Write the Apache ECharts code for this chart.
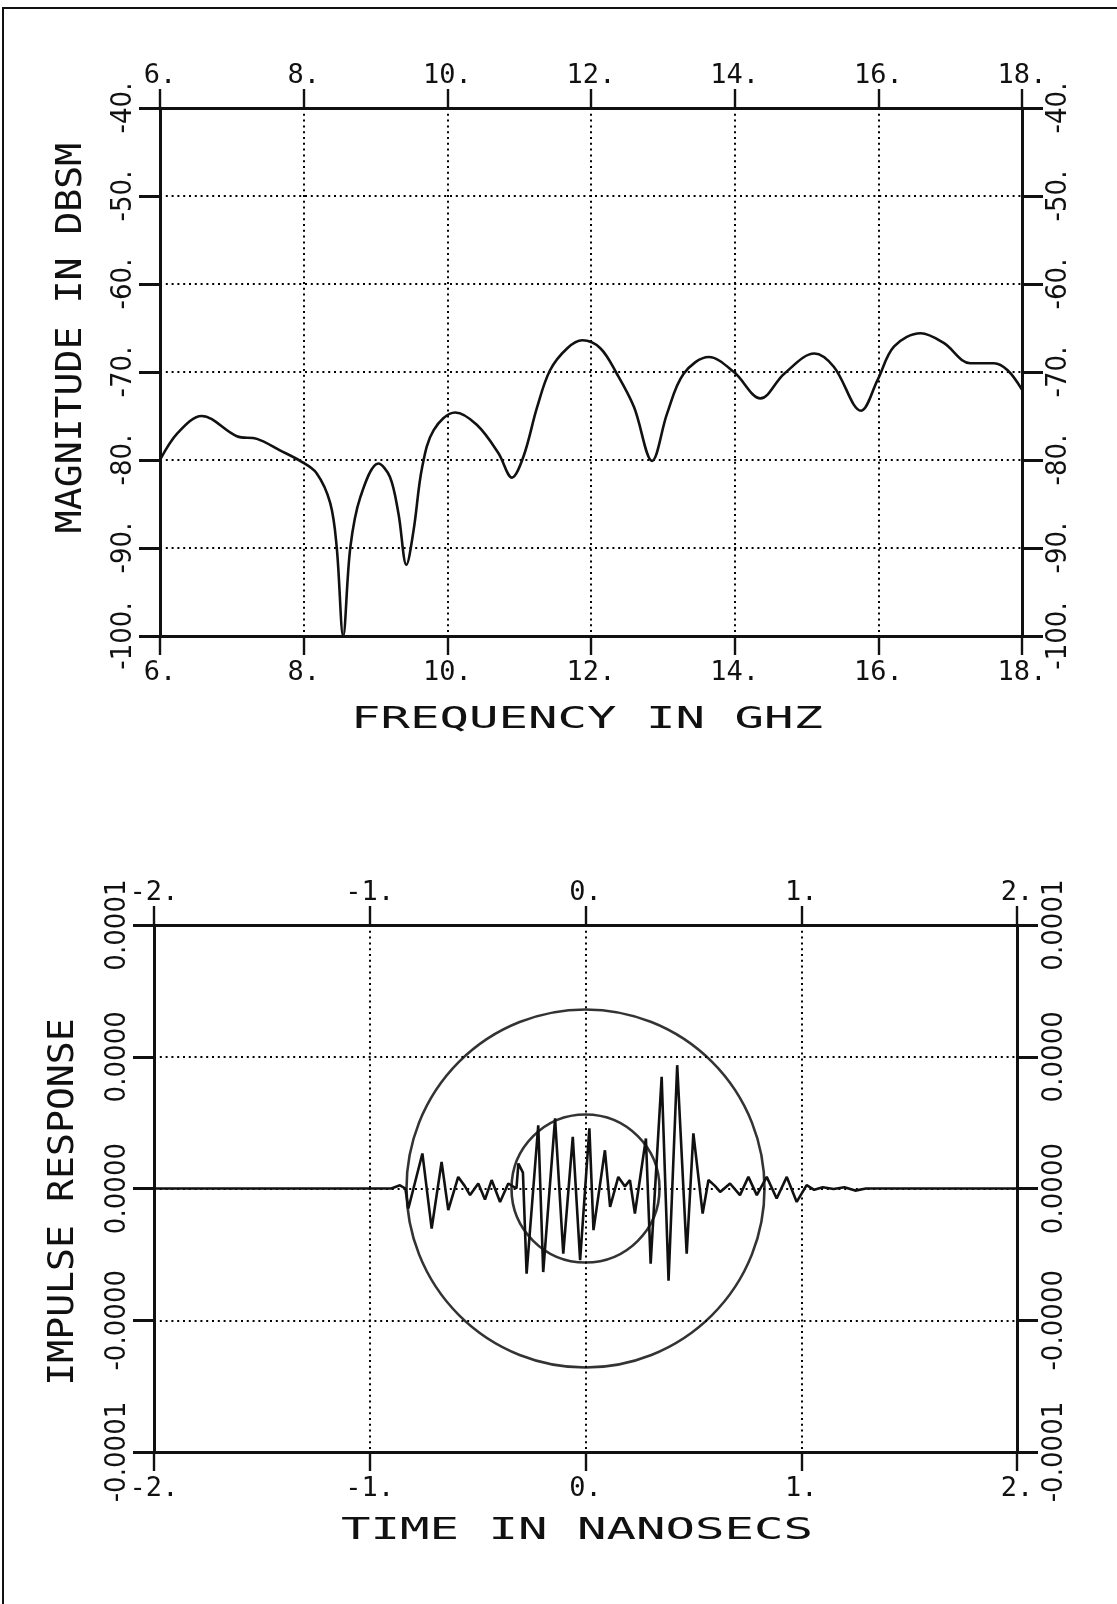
<!DOCTYPE html>
<html>
<head>
<meta charset="utf-8">
<script src="https://cdn.jsdelivr.net/npm/echarts@6/dist/echarts.min.js"></script>
<style>
html,body{margin:0;padding:0;background:#fff;}
#chart{width:1117px;height:1604px;}
</style>
</head>
<body>
<div id="chart"></div>
<script>
// ---------- tick labels ----------
const freqTickLabels = ['6.', '8.', '10.', '12.', '14.', '16.', '18.'];
const dbsmTickLabels = ['-100.', '-90.', '-80.', '-70.', '-60.', '-50.', '-40.'];
const timeTickLabels = ['-2.', '-1.', '0.', '1.', '2.'];
const impulseTickLabels = ['-0.0001', '-0.0000', '0.0000', '0.0000', '0.0001'];

// ---------- axis titles ----------
const magTitle = 'MAGNITUDE IN DBSM';
const freqTitle = 'FREQUENCY IN GHZ';
const impTitle = 'IMPULSE RESPONSE';
const timeTitle = 'TIME IN NANOSECS';

// ---------- top plot: magnitude vs frequency ----------
const freqGHz = [6.0, 6.25, 6.58, 7.07, 7.35, 7.67, 7.95, 8.18, 8.37, 8.46, 8.55, 8.65, 8.79, 9.04, 9.20, 9.32, 9.43, 9.53, 9.65, 9.81,
  10.11, 10.41, 10.71, 10.90, 11.06, 11.25, 11.43, 11.67, 11.88, 12.13, 12.36, 12.60, 12.85, 13.06, 13.29, 13.64, 13.99,
  14.36, 14.69, 15.11, 15.38, 15.76, 15.99, 16.22, 16.59, 16.91, 17.28, 17.61, 17.80, 18.0];
const magnitudeDBSM = [-80.0, -76.9, -75.0, -77.3, -77.6, -78.9, -80.1, -81.5, -84.9, -89.9, -100.0, -89.9, -84.2, -80.4, -81.9, -86.1, -91.9, -88.0, -80.8, -76.6,
  -74.6, -76.0, -79.2, -82.0, -79.6, -74.0, -69.8, -67.3, -66.4, -67.3, -70.2, -74.0, -80.1, -74.7, -70.2, -68.3, -70.0,
  -73.0, -70.2, -67.9, -69.4, -74.4, -70.9, -67.1, -65.6, -66.7, -69.0, -69.0, -69.8, -72.0];

// ---------- bottom plot: impulse response vs time ----------
const timeNs = [-2.0, -0.90, -0.86, -0.835, -0.821, -0.756, -0.713, -0.667, -0.636, -0.590, -0.560, -0.535, -0.497, -0.466, -0.435,
  -0.396, -0.358, -0.320, -0.311, -0.290, -0.273, -0.219, -0.196, -0.141, -0.103, -0.059, -0.025, 0.018, 0.037, 0.090,
  0.114, 0.152, 0.183, 0.206, 0.229, 0.280, 0.302, 0.353, 0.385, 0.425, 0.469, 0.500, 0.543, 0.570, 0.600, 0.624, 0.670,
  0.716, 0.755, 0.794, 0.840, 0.886, 0.933, 0.979, 1.025, 1.06, 1.10, 1.15, 1.20, 1.25, 1.30, 2.0];
const impulse = [0, 0, 0.12e-5, 0, -0.76e-5, 1.33e-5, -1.52e-5, 1.01e-5, -0.82e-5, 0.44e-5, 0.10e-5, -0.25e-5, 0.19e-5, -0.42e-5, 0.32e-5,
  -0.51e-5, 0.19e-5, 0, 0.95e-5, 0.60e-5, -3.23e-5, 2.40e-5, -3.17e-5, 2.66e-5, -2.47e-5, 1.96e-5, -2.72e-5, 2.28e-5, -1.58e-5, 1.45e-5,
  -0.70e-5, 0.44e-5, 0.08e-5, 0.32e-5, -0.95e-5, 1.90e-5, -2.85e-5, 4.24e-5, -3.50e-5, 4.68e-5, -2.47e-5, 2.09e-5, -0.95e-5, 0.32e-5, 0.10e-5, -0.13e-5, 0.19e-5,
  -0.25e-5, 0.44e-5, -0.25e-5, 0.44e-5, -0.38e-5, 0.44e-5, -0.51e-5, 0.13e-5, -0.05e-5, 0.05e-5, -0.02e-5, 0.05e-5, -0.08e-5, 0, 0];

// circle overlays (centres in data coordinates)
const outerCircleCenter = [0.0, 0];
const innerCircleCenter = [0.0, 0];

// ---------- build ----------
const INK = '#111';
const monoFont = '"DejaVu Sans Mono", "Liberation Mono", monospace';
const condFont = '"DejaVu Sans Condensed", "DejaVu Sans", sans-serif';

const magData = freqGHz.map((f, i) => [f, magnitudeDBSM[i]]);
const impData = timeNs.map((t, i) => [t, impulse[i]]);

function labelFrom(arr, min, interval) {
  return v => arr[Math.round((v - min) / interval)];
}

const dotted = { color: '#000', width: 2, type: [2, 3.8] };

function xAx(grid, pos, min, max, interval, labels, showSplit, margin) {
  return {
    type: 'value', gridIndex: grid, position: pos, min, max, interval,
    axisLine: { show: true, onZero: false, lineStyle: { color: INK, width: 3 } },
    axisTick: { show: true, inside: false, length: 19, lineStyle: { color: INK, width: 2.4 } },
    axisLabel: { show: true, margin, color: INK, fontFamily: monoFont, fontSize: 27,
      formatter: labelFrom(labels, min, interval) },
    splitLine: { show: showSplit, lineStyle: dotted }
  };
}
function yAx(grid, pos, min, max, interval, labels, showSplit, margin) {
  return {
    type: 'value', gridIndex: grid, position: pos, min, max, interval,
    axisLine: { show: true, onZero: false, lineStyle: { color: INK, width: 3 } },
    axisTick: { show: true, inside: false, length: 21, lineStyle: { color: INK, width: 3 } },
    axisLabel: { show: true, margin, rotate: 90, color: INK, fontFamily: condFont, fontSize: 29,
      formatter: labelFrom(labels, min, interval) },
    splitLine: { show: showSplit, lineStyle: dotted }
  };
}

const chart = echarts.init(document.getElementById('chart'), null, { renderer: 'canvas' });

function title(text, x, y, fs, sx, rot) {
  return {
    type: 'text', x, y, rotation: rot || 0, scaleX: sx, scaleY: 1,
    style: { text, fontFamily: monoFont, fontSize: fs, fill: INK, align: 'center', verticalAlign: 'middle' }
  };
}

const option = {
  backgroundColor: '#fff',
  animation: false,
  grid: [
    { left: 160, right: 95, top: 108, height: 528 },
    { left: 154, right: 100, top: 925, height: 527 }
  ],
  xAxis: [
    xAx(0, 'bottom', 6, 18, 2, freqTickLabels, true, 23),
    xAx(0, 'top', 6, 18, 2, freqTickLabels, false, 19),
    xAx(1, 'bottom', -2, 2, 1, timeTickLabels, true, 23),
    xAx(1, 'top', -2, 2, 1, timeTickLabels, false, 19)
  ],
  yAxis: [
    yAx(0, 'left', -100, -40, 10, dbsmTickLabels, true, 22),
    yAx(0, 'right', -100, -40, 10, dbsmTickLabels, false, 22),
    yAx(1, 'left', -0.0001, 0.0001, 0.00005, impulseTickLabels, true, 22),
    yAx(1, 'right', -0.0001, 0.0001, 0.00005, impulseTickLabels, false, 23)
  ],
  series: [
    {
      type: 'line', xAxisIndex: 0, yAxisIndex: 0, data: magData,
      smooth: 0.35, showSymbol: false, symbol: 'none',
      lineStyle: { color: INK, width: 2.6 }, z: 5
    },
    {
      type: 'scatter', xAxisIndex: 2, yAxisIndex: 2, data: [outerCircleCenter],
      symbol: 'circle', symbolSize: 358,
      itemStyle: { color: 'rgba(0,0,0,0)', borderColor: '#000', borderWidth: 2.6 },
      silent: true, z: 3
    },
    {
      type: 'scatter', xAxisIndex: 2, yAxisIndex: 2, data: [innerCircleCenter],
      symbol: 'circle', symbolSize: 148,
      itemStyle: { color: 'rgba(0,0,0,0)', borderColor: '#000', borderWidth: 2.6 },
      silent: true, z: 3
    },
    {
      type: 'line', xAxisIndex: 2, yAxisIndex: 2, data: impData,
      smooth: false, showSymbol: false, symbol: 'none',
      lineStyle: { color: INK, width: 2.6 }, z: 5
    }
  ],
  graphic: [
    {
      type: 'polyline', silent: true,
      shape: { points: [[3, 1604], [3, 8], [1117, 8]] },
      style: { stroke: INK, lineWidth: 2, fill: null }
    },
    title(magTitle, 72, 338, 36, 1.06, Math.PI / 2),
    title(freqTitle, 587, 720, 31, 1.58, 0),
    title(impTitle, 64, 1202, 36, 1.06, Math.PI / 2),
    title(timeTitle, 577, 1531, 31, 1.58, 0)
  ]
};
chart.setOption(option);
</script>
</body>
</html>
